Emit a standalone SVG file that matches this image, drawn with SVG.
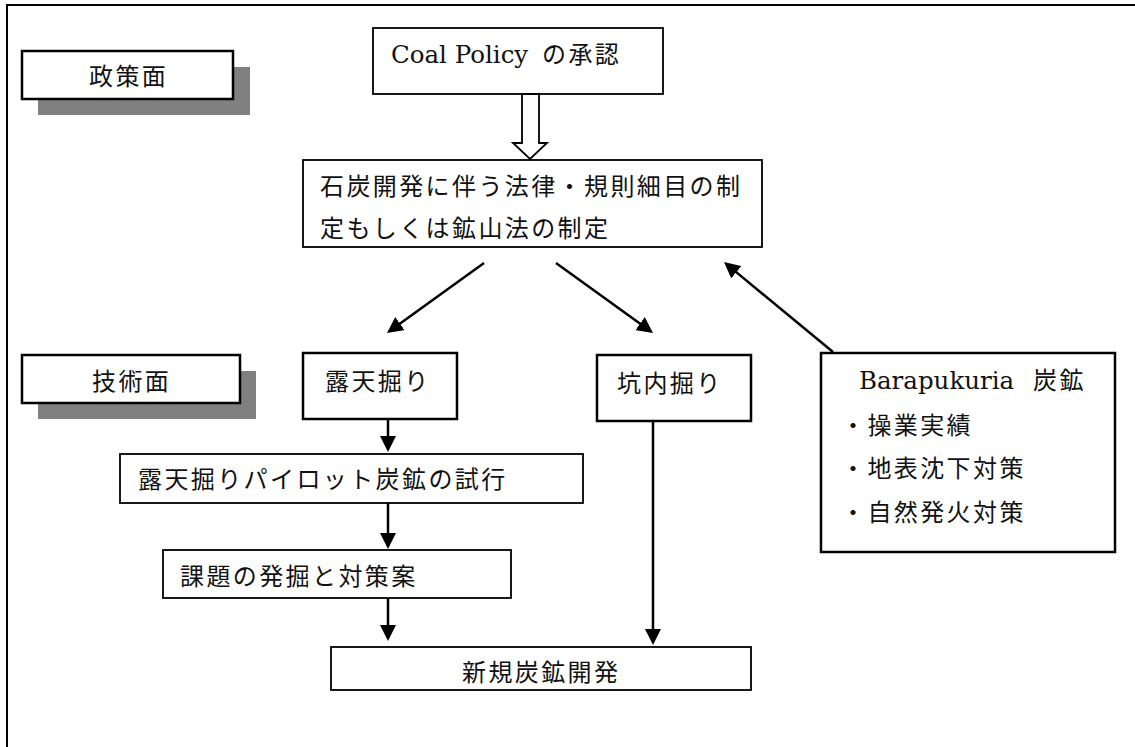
<svg xmlns="http://www.w3.org/2000/svg" width="1135" height="747" viewBox="0 0 1135 747">
<style>
.box{fill:#fff;stroke:#000;stroke-width:1.8}
.tk{fill:#fff;stroke:#000;stroke-width:2.5}
.sh{fill:#808080;stroke:none}
.jp{font-family:"DejaVu Serif","Noto Sans CJK JP",serif;font-size:24px;letter-spacing:2.4px;fill:#111}
.lat{font-family:"DejaVu Serif","Noto Sans CJK JP",serif;font-size:24.5px;letter-spacing:0;fill:#111}
.ln{stroke:#000;stroke-width:2.5;fill:none;marker-end:url(#ah)}
</style>
<defs>
<marker id="ah" viewBox="0 0 16 16" refX="13" refY="8" markerUnits="userSpaceOnUse" markerWidth="16" markerHeight="16" orient="auto">
<path d="M0,0 L16,8 L0,16 z" fill="#000"/>
</marker>
</defs>
<rect x="7" y="5" width="1140" height="760" fill="#fff" stroke="#000" stroke-width="2"/>

<g id="label-policy">
<rect class="sh" x="38" y="67" width="212" height="48"/>
<rect class="tk" x="22" y="51" width="211" height="48"/>
<text class="jp" x="89" y="85">政策面</text>
</g>

<g id="label-tech">
<rect class="sh" x="38" y="371" width="218" height="48"/>
<rect class="tk" x="22" y="355" width="218" height="48"/>
<text class="jp" x="92" y="390">技術面</text>
</g>

<g id="coal-policy">
<rect class="box" x="373" y="28" width="290" height="66"/>
<text class="jp" y="63"><tspan class="lat" x="391">Coal Policy </tspan><tspan x="542">の承認</tspan></text>
</g>

<g id="law">
<rect class="box" x="303" y="160" width="459" height="87"/>
<text class="jp" x="320" y="195">石炭開発に伴う法律・規則細目の制</text>
<text class="jp" x="320" y="237">定もしくは鉱山法の制定</text>
</g>

<g id="open-pit">
<rect class="tk" x="303" y="353" width="154" height="66"/>
<text class="jp" x="325" y="390">露天掘り</text>
</g>

<g id="underground">
<rect class="tk" x="597" y="355" width="154" height="66"/>
<text class="jp" x="617" y="392">坑内掘り</text>
</g>

<g id="barapukuria">
<rect class="tk" x="821" y="353" width="294" height="199"/>
<text class="jp" y="389"><tspan class="lat" x="859">Barapukuria </tspan><tspan x="1033">炭鉱</tspan></text>
<text class="jp" x="841" y="434">・操業実績</text>
<text class="jp" x="841" y="477">・地表沈下対策</text>
<text class="jp" x="841" y="521">・自然発火対策</text>
</g>

<g id="pilot">
<rect class="box" x="120" y="454" width="463" height="49"/>
<text class="jp" x="138" y="488">露天掘りパイロット炭鉱の試行</text>
</g>

<g id="issues">
<rect class="box" x="163" y="550" width="348" height="48"/>
<text class="jp" x="180" y="585">課題の発掘と対策案</text>
</g>

<g id="new-mine">
<rect class="box" x="331" y="647" width="420" height="43"/>
<text class="jp" x="462" y="681">新規炭鉱開発</text>
</g>

<g id="connectors">
<polygon points="522,94 539,94 539,143 547,143 530,159 513,143 522,143" fill="#fff" stroke="#000" stroke-width="1.8" stroke-linejoin="miter"/>
<line class="ln" x1="484" y1="263" x2="389.4" y2="331.2"/>
<line class="ln" x1="556" y1="263" x2="650.6" y2="331.2"/>
<line class="ln" x1="833" y1="352" x2="726.3" y2="263.9"/>
<line class="ln" x1="388" y1="419" x2="388" y2="449"/>
<line class="ln" x1="388" y1="503" x2="388" y2="546"/>
<line class="ln" x1="388" y1="598" x2="388" y2="638"/>
<line class="ln" x1="653" y1="421" x2="653" y2="642"/>
</g>
</svg>
